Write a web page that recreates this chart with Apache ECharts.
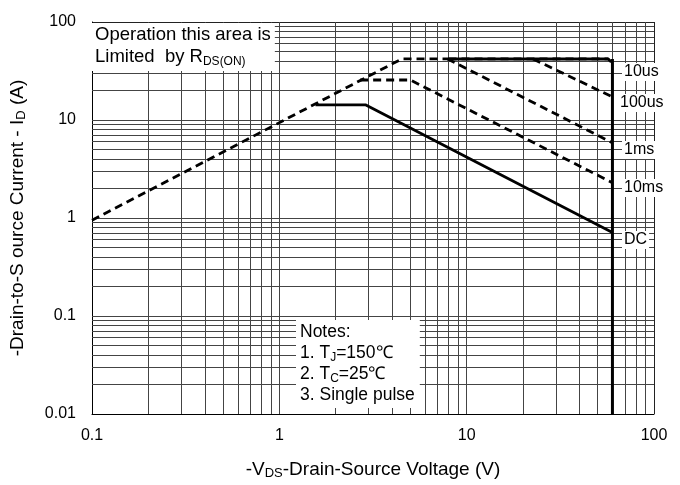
<!DOCTYPE html>
<html>
<head>
<meta charset="utf-8">
<script src="https://cdn.jsdelivr.net/npm/echarts@6/dist/echarts.min.js"></script>
<style>html,body{margin:0;padding:0;background:#fff}#chart{width:680px;height:485px}</style>
</head>
<body>
<div id="chart"></div>
<script>
// curve points [Vds, Id]
var rdsLimit = [[0.1, 0.95], [4.5, 42], [8, 42]];
var pulse10us = [[8, 42], [57, 42], [60, 38]];
var pulse100us = [[22.6, 42], [60, 17.2]];
var pulse1ms = [[7.9, 42], [60, 5.85]];
var pulse10ms = [[2.7, 25.6], [5.0, 25.6], [60, 2.29]];
var dcLine = [[1.56, 14.3], [2.88, 14.3], [60, 0.71]];
var vdsMax = [[60, 42], [60, 0.01]];
var xTicks = [0.1, 1, 10, 100];
var yTicks = [0.01, 0.1, 1, 10, 100];

var FONT = 'Liberation Sans';

function gridValues(lo, hi) {
	var out = [];
	for (var d = lo; d < hi; d *= 10) {
		for (var m = 1; m <= 9; m++) {
			if (m * d > lo * 1.0001 && m * d < hi * 0.9999) out.push(+(m * d).toPrecision(3));
		}
	}
	return out;
}

var gridMarks = [];
gridValues(0.1, 100).forEach(function (v) { gridMarks.push({ xAxis: v }); });
gridValues(0.01, 100).forEach(function (v) { gridMarks.push({ yAxis: v }); });

function line(name, data, dashed, width) {
	return {
		name: name, type: 'line', data: data, symbol: 'none', z: 5,
		lineStyle: { color: '#000', width: width || 2.8, type: dashed ? [8, 5] : 'solid' }
	};
}

var myChart = echarts.init(document.getElementById('chart'));
myChart.setOption({
	animation: false,
	grid: { left: 91, right: 26, top: 22, bottom: 70 },
	xAxis: {
		type: 'log', logBase: 10, min: 0.1, max: 100,
		axisLine: { lineStyle: { color: '#000', width: 1 } },
		axisTick: { show: false },
		splitLine: { lineStyle: { color: '#222', width: 1 } },
		axisLabel: { color: '#000', fontSize: 16, fontFamily: FONT, margin: 14,
			formatter: function (v) { return String(+v.toPrecision(3)); } },
		name: '-V{sub|DS}-Drain-Source Voltage (V)', nameLocation: 'middle', nameGap: 45,
		nameTextStyle: { color: '#000', fontSize: 19, fontFamily: FONT,
			rich: { sub: { fontSize: 13, verticalAlign: 'bottom', padding: [8, 0, 0, 0], fontFamily: FONT } } }
	},
	yAxis: {
		type: 'log', logBase: 10, min: 0.01, max: 100,
		axisLine: { show: true, lineStyle: { color: '#000', width: 1 } },
		axisTick: { show: false },
		splitLine: { lineStyle: { color: '#222', width: 1 } },
		axisLabel: { color: '#000', fontSize: 16, fontFamily: FONT, margin: 16,
			formatter: function (v) { return String(+v.toPrecision(3)); } },
		name: '-Drain-to-S ource Current - I{sub|D} (A)', nameLocation: 'middle', nameGap: 64,
		nameTextStyle: { color: '#000', fontSize: 19, fontFamily: FONT,
			rich: { sub: { fontSize: 13, verticalAlign: 'bottom', padding: [8, 0, 0, 0], fontFamily: FONT } } }
	},
	series: [
		{
			type: 'line', data: [], silent: true,
			markLine: { silent: true, symbol: 'none', animation: false, label: { show: false },
				lineStyle: { color: '#444', width: 1, type: 'solid' }, data: gridMarks }
		},
		line('Rds', rdsLimit, true),
		line('10us', pulse10us, true),
		{ type: 'line', data: [[8, 42], [57, 42]], symbol: 'none', z: 6, lineStyle: { color: '#000', width: 3 } },
		line('100us', pulse100us, true),
		line('1ms', pulse1ms, true),
		line('10ms', pulse10ms, true),
		line('DC', dcLine, false),
		line('Vmax', vdsMax, false, 3)
	],
	graphic: [
		{ type: 'text', left: 92, top: 23, z: 10, style: {
			text: 'Operation this area is\nLimited  by R{s|DS(ON)}', fill: '#000', font: '18.5px ' + FONT,
			lineHeight: 22, backgroundColor: '#fff', padding: [1, 4, 3, 3],
			rich: { s: { fontSize: 12, verticalAlign: 'bottom', padding: [7, 0, 0, 0], fontFamily: FONT } } } },
		{ type: 'text', left: 296, top: 320, z: 10, style: {
			text: 'Notes:\n1. T{s|J}=150℃\n2. T{s|C}=25℃\n3. Single pulse', fill: '#000', font: '17.5px ' + FONT,
			lineHeight: 21, backgroundColor: '#fff', padding: [2, 5, 2, 4],
			rich: { s: { fontSize: 12, verticalAlign: 'bottom', padding: [7, 0, 0, 0], fontFamily: FONT } } } },
		{ type: 'text', left: 622, top: 63, z: 10, style: { text: '10us', fill: '#000', font: '16px ' + FONT, backgroundColor: '#fff', padding: [1, 2] } },
		{ type: 'text', left: 618, top: 94, z: 10, style: { text: '100us', fill: '#000', font: '16px ' + FONT, backgroundColor: '#fff', padding: [1, 2] } },
		{ type: 'text', left: 622, top: 141, z: 10, style: { text: '1ms', fill: '#000', font: '16px ' + FONT, backgroundColor: '#fff', padding: [1, 2] } },
		{ type: 'text', left: 622, top: 179, z: 10, style: { text: '10ms', fill: '#000', font: '16px ' + FONT, backgroundColor: '#fff', padding: [1, 2] } },
		{ type: 'text', left: 622, top: 231, z: 10, style: { text: 'DC', fill: '#000', font: '16px ' + FONT, backgroundColor: '#fff', padding: [1, 2] } }
	]
});
</script>
</body>
</html>
